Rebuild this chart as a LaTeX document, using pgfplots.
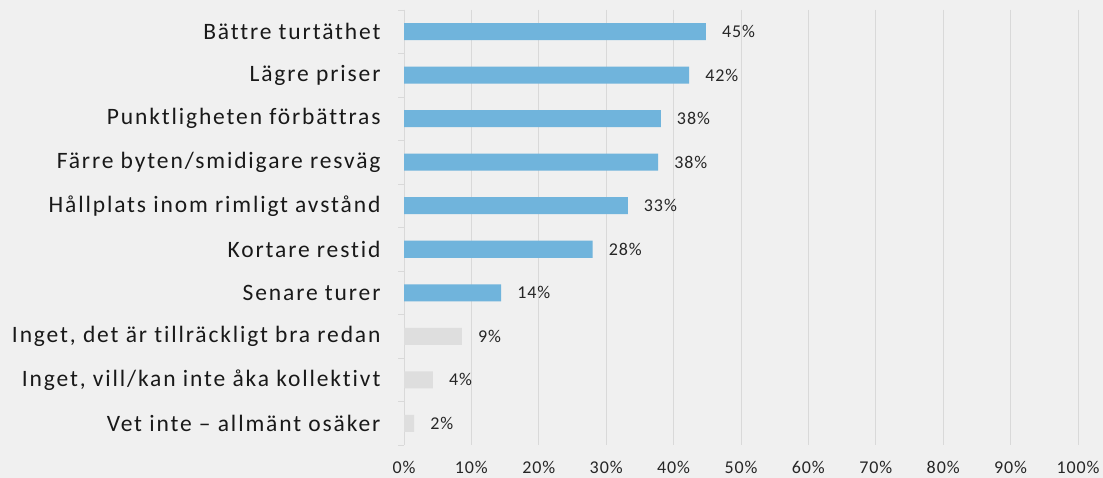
\documentclass[border=0pt]{standalone}
\usepackage{fontspec}
\setmainfont{Carlito}
\newfontfamily\catfont[LetterSpace=8,Ligatures=NoCommon]{Carlito}
\newfontfamily\numfont[LetterSpace=5]{Carlito}
\usepackage{pgfplots}
\pgfplotsset{compat=1.18}
\definecolor{bg}{HTML}{F0F0F0}
\definecolor{barblue}{HTML}{70B4DC}
\definecolor{bargray}{HTML}{DEDEDE}
\definecolor{gridc}{HTML}{D9D9D9}
\begin{document}
\begin{tikzpicture}
\useasboundingbox (0,0) rectangle (1103pt,478pt);
\fill[bg] (0,0) rectangle (1103pt,478pt);
\begin{axis}[
  at={(404pt,33pt)}, anchor=south west,
  scale only axis, width=674pt, height=435pt,
  xmin=0, xmax=100, ymin=-0.5, ymax=9.5, y dir=reverse,
  xtick={0,10,...,100},
  xticklabels={0\%,10\%,20\%,30\%,40\%,50\%,60\%,70\%,80\%,90\%,100\%},
  xticklabel style={font=\fontsize{18}{20}\numfont\color{black!85}, yshift=-13pt},
  ytick={0,...,9},
  yticklabels={Bättre turtäthet,Lägre priser,Punktligheten förbättras,Färre byten/smidigare resväg,Hållplats inom rimligt avstånd,Kortare restid,Senare turer,{Inget, det är tillräckligt bra redan},{Inget, vill/kan inte åka kollektivt},Vet inte – allmänt osäker},
  yticklabel style={font=\fontsize{23.5}{25}\catfont\color{black!90}, xshift=-20pt},
  minor ytick={-0.5,0.5,...,9.5},
  major tick length=0pt, minor tick length=6pt, tick align=outside,
  tick style={gridc, line width=0.8pt},
  xmajorgrids, grid style={gridc, line width=0.8pt},
  axis lines*=left,
  x axis line style={draw=none},
  y axis line style={gridc, line width=0.8pt},
  xbar, bar width=17pt, bar shift=0pt,
  point meta=explicit symbolic,
  nodes near coords={\pgfplotspointmeta},
  nodes near coords style={font=\fontsize{18}{20}\numfont\color{black!85}, anchor=west, inner sep=0pt, xshift=16pt},
  clip=false,
]
\addplot[fill=barblue, draw=none] coordinates {
  (44.8,0) [45\%]
  (42.3,1) [42\%]
  (38.1,2) [38\%]
  (37.7,3) [38\%]
  (33.2,4) [33\%]
  (28.0,5) [28\%]
  (14.4,6) [14\%]
};
\addplot[fill=bargray, draw=none] coordinates {
  (8.6,7) [9\%]
  (4.3,8) [4\%]
  (1.5,9) [2\%]
};
\end{axis}
\end{tikzpicture}
\end{document}
